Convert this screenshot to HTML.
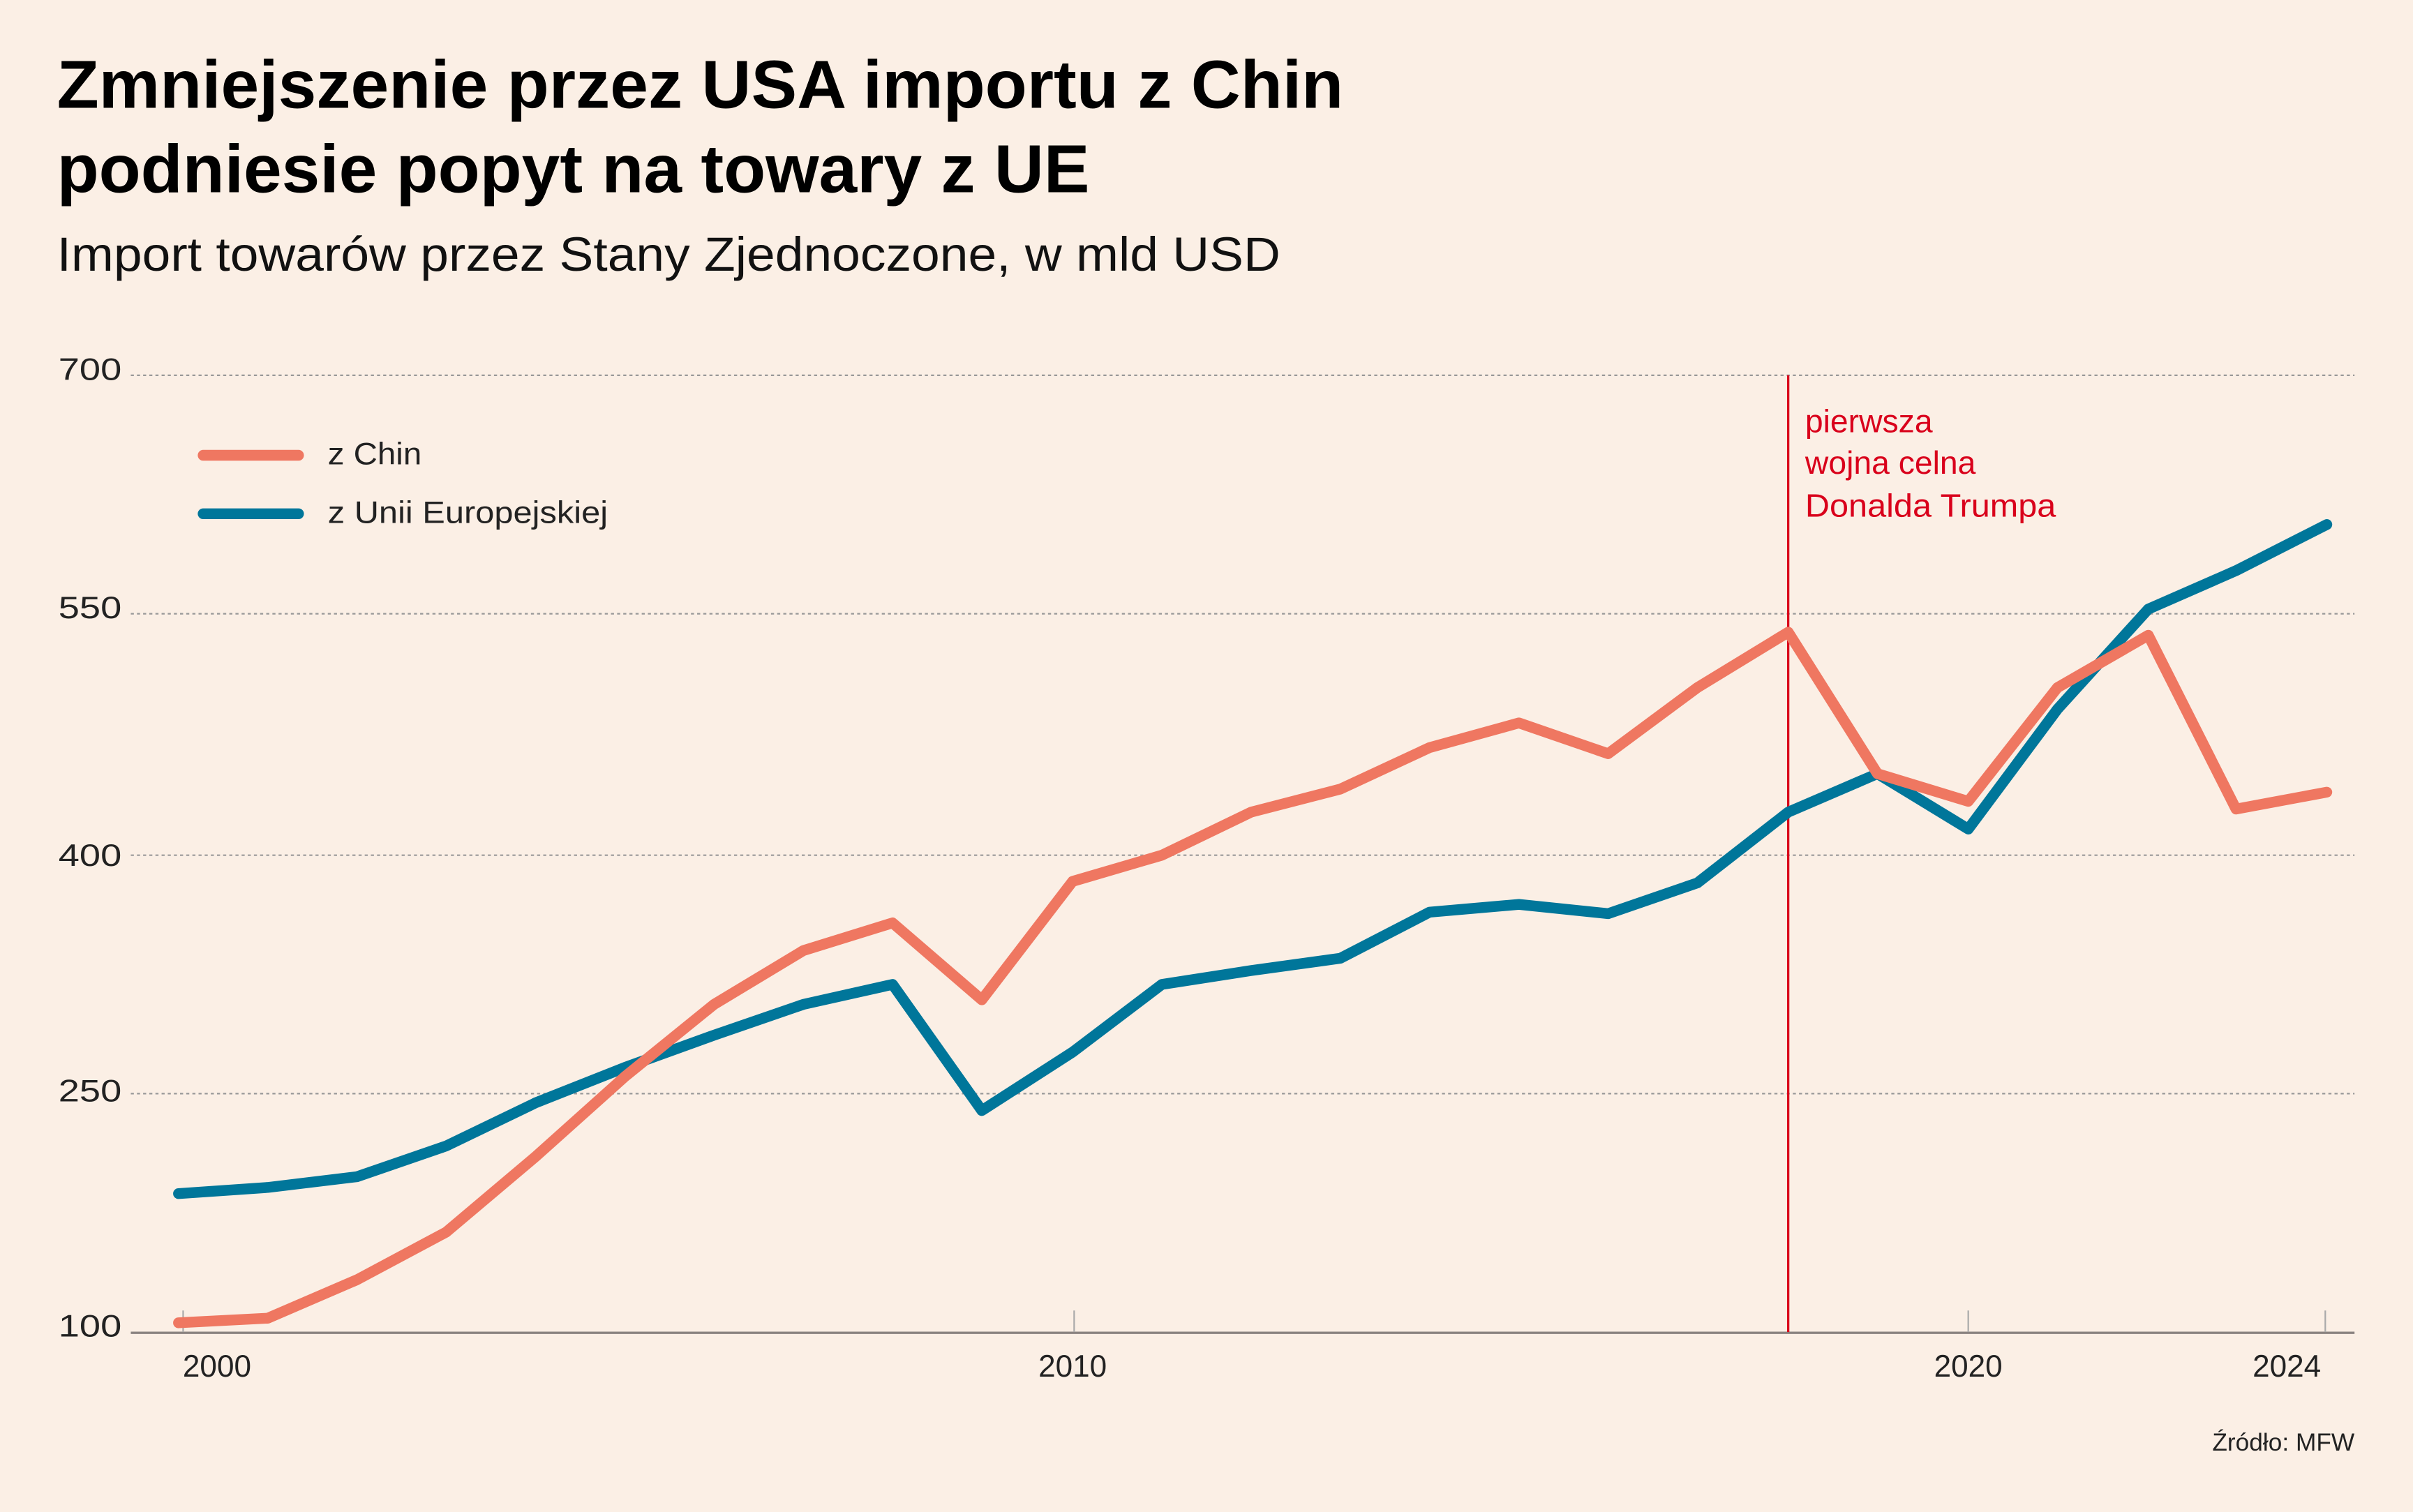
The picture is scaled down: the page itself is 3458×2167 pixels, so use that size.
<!DOCTYPE html>
<html><head><meta charset="utf-8"><style>
html,body{margin:0;padding:0;background:#fbefe5;}
svg{display:block;}
text{font-family:"Liberation Sans",sans-serif;}
</style></head><body>
<svg width="3458" height="2167" viewBox="0 0 1568 983" preserveAspectRatio="none" xmlns="http://www.w3.org/2000/svg">
<rect width="1568" height="983" fill="#fbefe5"/>
<text x="37" y="70" font-size="44" font-weight="bold" fill="#000" textLength="836" lengthAdjust="spacingAndGlyphs">Zmniejszenie przez USA importu z Chin</text>
<text x="37" y="125" font-size="44" font-weight="bold" fill="#000" textLength="671" lengthAdjust="spacingAndGlyphs">podniesie popyt na towary z UE</text>
<text x="37" y="176" font-size="31" fill="#111" textLength="795" lengthAdjust="spacingAndGlyphs">Import towarów przez Stany Zjednoczone, w mld USD</text>
<g stroke="#999" stroke-width="1" stroke-dasharray="2,2">
<line x1="85" y1="244" x2="1530" y2="244"/>
<line x1="85" y1="399" x2="1530" y2="399"/>
<line x1="85" y1="556" x2="1530" y2="556"/>
<line x1="85" y1="711" x2="1530" y2="711"/>
</g>
<line x1="85" y1="866.5" x2="1530" y2="866.5" stroke="#8a8380" stroke-width="1.5"/>
<g stroke="#aaa" stroke-width="1">
<line x1="119" y1="852" x2="119" y2="866"/><line x1="698" y1="852" x2="698" y2="866"/>
<line x1="1279" y1="852" x2="1279" y2="866"/><line x1="1511" y1="852" x2="1511" y2="866"/>
</g>
<g font-size="20" fill="#222">
<text x="38" y="247" textLength="41" lengthAdjust="spacingAndGlyphs">700</text><text x="38" y="402" textLength="41" lengthAdjust="spacingAndGlyphs">550</text><text x="38" y="563" textLength="41" lengthAdjust="spacingAndGlyphs">400</text><text x="38" y="716" textLength="41" lengthAdjust="spacingAndGlyphs">250</text><text x="38" y="869" textLength="41" lengthAdjust="spacingAndGlyphs">100</text>
<text x="141" y="895" text-anchor="middle">2000</text><text x="697" y="895" text-anchor="middle">2010</text>
<text x="1279" y="895" text-anchor="middle">2020</text><text x="1486" y="895" text-anchor="middle">2024</text>
</g>
<text x="1530" y="943" font-size="16" fill="#222" text-anchor="end">Źródło: MFW</text>
<line x1="1162" y1="244" x2="1162" y2="866" stroke="#d9001b" stroke-width="1.5"/>
<g font-size="21" fill="#d9001b">
<text x="1173" y="281">pierwsza</text><text x="1173" y="308">wojna celna</text><text x="1173" y="336" textLength="163" lengthAdjust="spacingAndGlyphs">Donalda Trumpa</text>
</g>
<g fill="none" stroke-width="7" stroke-linejoin="round" stroke-linecap="round">
<polyline stroke="#00769a" points="116,776 174,772 232,765 290,745 348,717 406,694 464,673 522,653 580,640 638,722 697,684 755,640 813,631 871,623 929,593 987,588 1045,594 1103,574 1162,528 1220,503 1279,539 1337,461 1396,396 1453,371 1512,341"/>
<polyline stroke="#ef7761" points="116,860 174,857 232,832 290,801 348,752 406,700 464,653 522,618 580,600 638,650 697,573 755,556 813,528 871,513 929,486 987,470 1045,490 1103,447 1162,411 1220,503 1279,521 1337,447 1396,413 1453,526 1512,515"/>
<line x1="132" y1="296" x2="194" y2="296" stroke="#ef7761"/>
<line x1="132" y1="334" x2="194" y2="334" stroke="#00769a"/>
</g>
<g font-size="20" fill="#222">
<text x="213" y="302" textLength="61" lengthAdjust="spacingAndGlyphs">z Chin</text><text x="213" y="340" textLength="182" lengthAdjust="spacingAndGlyphs">z Unii Europejskiej</text>
</g>
</svg>
</body></html>
